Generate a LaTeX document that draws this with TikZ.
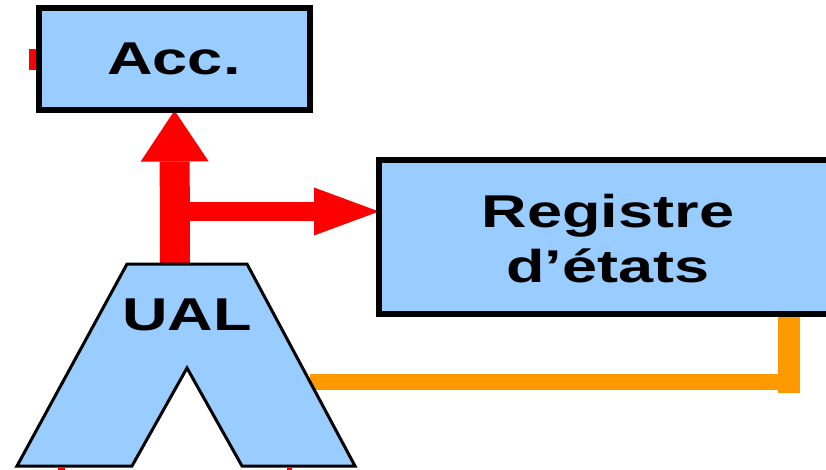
\documentclass[tikz,border=0pt]{standalone}
\usepackage{fontspec}
\setmainfont{Liberation Sans}
\usetikzlibrary{arrows.meta,backgrounds}
\definecolor{unitblue}{HTML}{99CCFF}
\definecolor{busred}{HTML}{FF0000}
\definecolor{flagorange}{HTML}{FF9900}
\tikzset{
  regbox/.style={draw=black, fill=unitblue, line width=6pt, inner sep=0pt, outer sep=0pt},
  ualshape/.style={draw=black, fill=unitblue, line width=3pt, line join=miter},
  label/.style={inner sep=0pt, anchor=base, font=\fontsize{46}{54}\selectfont\bfseries},
  databus/.style={busred, line width=#1},
  flagline/.style={flagorange, line width=#1},
}
\newcommand{\wide}[1]{\scalebox{1.37}[1]{#1}}
\begin{document}
\begin{tikzpicture}[x=1pt, y=-1pt]
  \useasboundingbox (0,0) rectangle (826,470);
  \clip (0,0) rectangle (826,470);

  % accumulator and status register
  \node[regbox, minimum width=271pt, minimum height=102.5pt] (acc) at (174.5,59.25) {};
  \node[label] (acctext) at (174,75) {\wide{Acc.}};
  \node[regbox, minimum width=461pt, minimum height=153pt] (reg) at (609.5,237) {};
  \node[label] (regtext1) at (608,228) {\wide{Registre}};
  \node[label] (regtext2) at (608,282) {\wide{d’états}};

  % arithmetic and logic unit
  \coordinate (ualtop) at (175,264);
  \coordinate (ualright) at (310,382);
  \draw[ualshape] (127,264) -- (247,264) -- (355,466) -- (242,466) -- (187,368)
    -- (132,466) -- (17,466) -- cycle;
  \node[label] (ualtext) at (187,330) {\wide{UAL}};

  \coordinate (branch) at (175,211.5);
  \coordinate (corner) at (789,382);

  \begin{pgfonlayer}{background}
    % result bus from the UAL
    \draw[databus=30pt, -{Triangle[length=51pt, width=68pt, line width=0pt]}]
      (ualtop) -- (acc.south);
    \draw[databus=19pt, -{Triangle[length=65pt, width=48pt, line width=0pt]}]
      (branch) -- (branch -| reg.west);
    % accumulator input stub
    \draw[databus=21pt] (acc.west) -- ++(-10,0);
    % operand input stubs
    \fill[busred] (58,468) rectangle (65,471);
    \fill[busred] (287,468) rectangle (292,471);
    % flag feedback to the UAL
    \draw[flagline=16pt] (ualright) -- (corner);
    \draw[flagline=22pt, line cap=rect] (corner) -- (corner |- reg.south);
  \end{pgfonlayer}
\end{tikzpicture}
\end{document}
